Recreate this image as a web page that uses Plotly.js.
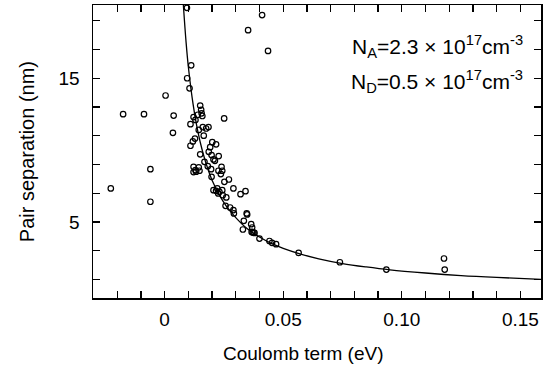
<!DOCTYPE html>
<html>
<head>
<meta charset="utf-8">
<script src="https://cdn.plot.ly/plotly-3.0.1.min.js"></script>
<style>html,body{margin:0;padding:0;background:#fff;}#chart{width:554px;height:377px;}</style>
</head>
<body>
<div id="chart"></div>
<script>
// Measured points: Coulomb term (eV) vs pair separation (nm)
const coulombX = [
  0.0094, 0.0411, 0.0352, 0.0436, 0.0112, 0.0095, 0.0105, 0.0004, -0.0175, -0.0087,
  0.0038, 0.0251, 0.0150, 0.0154, 0.0156, 0.0159, 0.0122, 0.0140, 0.0130, 0.0109,
  0.0161, 0.0185, 0.0175, 0.0144, 0.0165, 0.0035, 0.0128, 0.0119, 0.0109, 0.0201,
  0.0217, 0.0192, 0.0150, 0.0186, 0.0198, 0.0228, 0.0206, 0.0212, 0.0168, 0.0182,
  0.0122, 0.0130, 0.0144, 0.0147, 0.0122, 0.0133, 0.0196, 0.0227, 0.0240, 0.0243,
  0.0237, 0.0198, 0.0271, 0.0252, -0.0060, -0.0227, -0.0060, 0.0290, 0.0341, 0.0320,
  0.0206, 0.0222, 0.0231, 0.0217, 0.0226, 0.0243, 0.0245, 0.0260, 0.0257, 0.0276,
  0.0290, 0.0292, 0.0346, 0.0348, 0.0334, 0.0330, 0.0365, 0.0369, 0.0371, 0.0379,
  0.0367, 0.0375, 0.0400, 0.0442, 0.0453, 0.0470, 0.0565, 0.0739, 0.0935, 0.1178,
  0.1181
];
const pairSep = [
  19.9, 19.4, 18.35, 16.9, 15.9, 15.0, 14.3, 13.8, 12.5, 12.5,
  12.4, 12.2, 13.1, 12.8, 12.56, 12.37, 12.3, 12.46, 12.1, 11.8,
  11.6, 11.6, 11.5, 11.4, 11.0, 11.2, 10.8, 10.6, 10.3, 10.55,
  10.4, 10.2, 9.7, 9.88, 9.65, 9.58, 9.35, 9.25, 9.18, 8.88,
  8.83, 8.6, 8.8, 8.56, 8.47, 8.49, 8.67, 8.56, 8.83, 8.56,
  8.33, 8.14, 7.95, 7.79, 8.67, 7.33, 6.4, 7.33, 7.14, 6.93,
  7.21, 7.33, 7.09, 7.16, 6.98, 7.21, 6.86, 6.7, 6.12, 6.0,
  5.82, 5.59, 5.59, 5.52, 5.07, 4.47, 4.84, 4.61, 4.28, 4.23,
  4.3, 4.25, 3.84, 3.67, 3.54, 3.45, 2.84, 2.19, 1.68, 2.45,
  1.68
];
// Theoretical curve
const curveX = [0.0079, 0.009, 0.010, 0.012, 0.014, 0.016, 0.018, 0.020, 0.023, 0.026,
  0.030, 0.035, 0.040, 0.045, 0.050, 0.057, 0.065, 0.075, 0.085, 0.095,
  0.110, 0.125, 0.140, 0.1587];
const curveY = [20.1, 17.6, 15.8, 13.2, 11.3, 9.9, 8.8, 7.9, 6.9, 6.1,
  5.3, 4.5, 3.95, 3.5, 3.16, 2.78, 2.43, 2.1, 1.86, 1.66,
  1.44, 1.26, 1.13, 1.0];
// Tick labels
const xTickVals = [-0.03,-0.02,-0.01,0,0.01,0.02,0.03,0.04,0.05,0.06,0.07,0.08,0.09,0.10,0.11,0.12,0.13,0.14,0.15];
const xTickText = ['','','','0','','','','','0.05','','','','','0.10','','','','','0.15'];
const yTickVals = [1,3,5,7,9,11,13,15,17,19];
const yTickText = ['','','5','','','','','15','',''];

const FONT = 'Liberation Sans, Arial, Helvetica, sans-serif';

const traces = [
  {x: curveX, y: curveY, mode: 'lines', line: {color: '#000', width: 1.3, shape: 'spline', smoothing: 1}, hoverinfo: 'skip'},
  {x: coulombX, y: pairSep, mode: 'markers',
   marker: {symbol: 'circle-open', size: 5.5, color: '#000', line: {color: '#000', width: 1.2}}}
];

const axisCommon = {
  showgrid: false, zeroline: false, showline: true, linecolor: '#000', linewidth: 1.5,
  mirror: 'ticks', ticks: 'inside', ticklen: 7, tickwidth: 1.3, tickcolor: '#000',
  tickmode: 'array', tickfont: {family: FONT, size: 19, color: '#000'}
};

const layout = {
  width: 554, height: 377,
  margin: {l: 93, r: 13, t: 5, b: 79},
  paper_bgcolor: '#fff', plot_bgcolor: '#fff',
  showlegend: false,
  font: {family: FONT, color: '#000'},
  xaxis: Object.assign({}, axisCommon, {range: [-0.0302, 0.1587], tickvals: xTickVals, ticktext: xTickText, ticklabelstandoff: 4}),
  yaxis: Object.assign({}, axisCommon, {range: [-0.3, 20.1], tickvals: yTickVals, ticktext: yTickText, ticklabelstandoff: 8}),
  annotations: [
    {xref: 'paper', yref: 'paper', x: 0.47, y: -0.19, xanchor: 'center', yanchor: 'middle', showarrow: false,
     text: 'Coulomb term (eV)', font: {family: FONT, size: 19, color: '#000'}},
    {xref: 'paper', yref: 'paper', x: -0.148, y: 0.5, xanchor: 'center', yanchor: 'middle', showarrow: false, textangle: -90,
     text: 'Pair separation (nm)', font: {family: FONT, size: 20, color: '#000'}},
    {xref: 'paper', yref: 'paper', x: 0.965, y: 0.86, xanchor: 'right', yanchor: 'middle', showarrow: false,
     text: 'N<sub>A</sub>=2.3 × 10<sup>17</sup>cm<sup>-3</sup>', font: {family: FONT, size: 21, color: '#000'}},
    {xref: 'paper', yref: 'paper', x: 0.965, y: 0.74, xanchor: 'right', yanchor: 'middle', showarrow: false,
     text: 'N<sub>D</sub>=0.5 × 10<sup>17</sup>cm<sup>-3</sup>', font: {family: FONT, size: 21, color: '#000'}}
  ]
};

Plotly.newPlot('chart', traces, layout, {displayModeBar: false, staticPlot: true});
</script>
</body>
</html>
